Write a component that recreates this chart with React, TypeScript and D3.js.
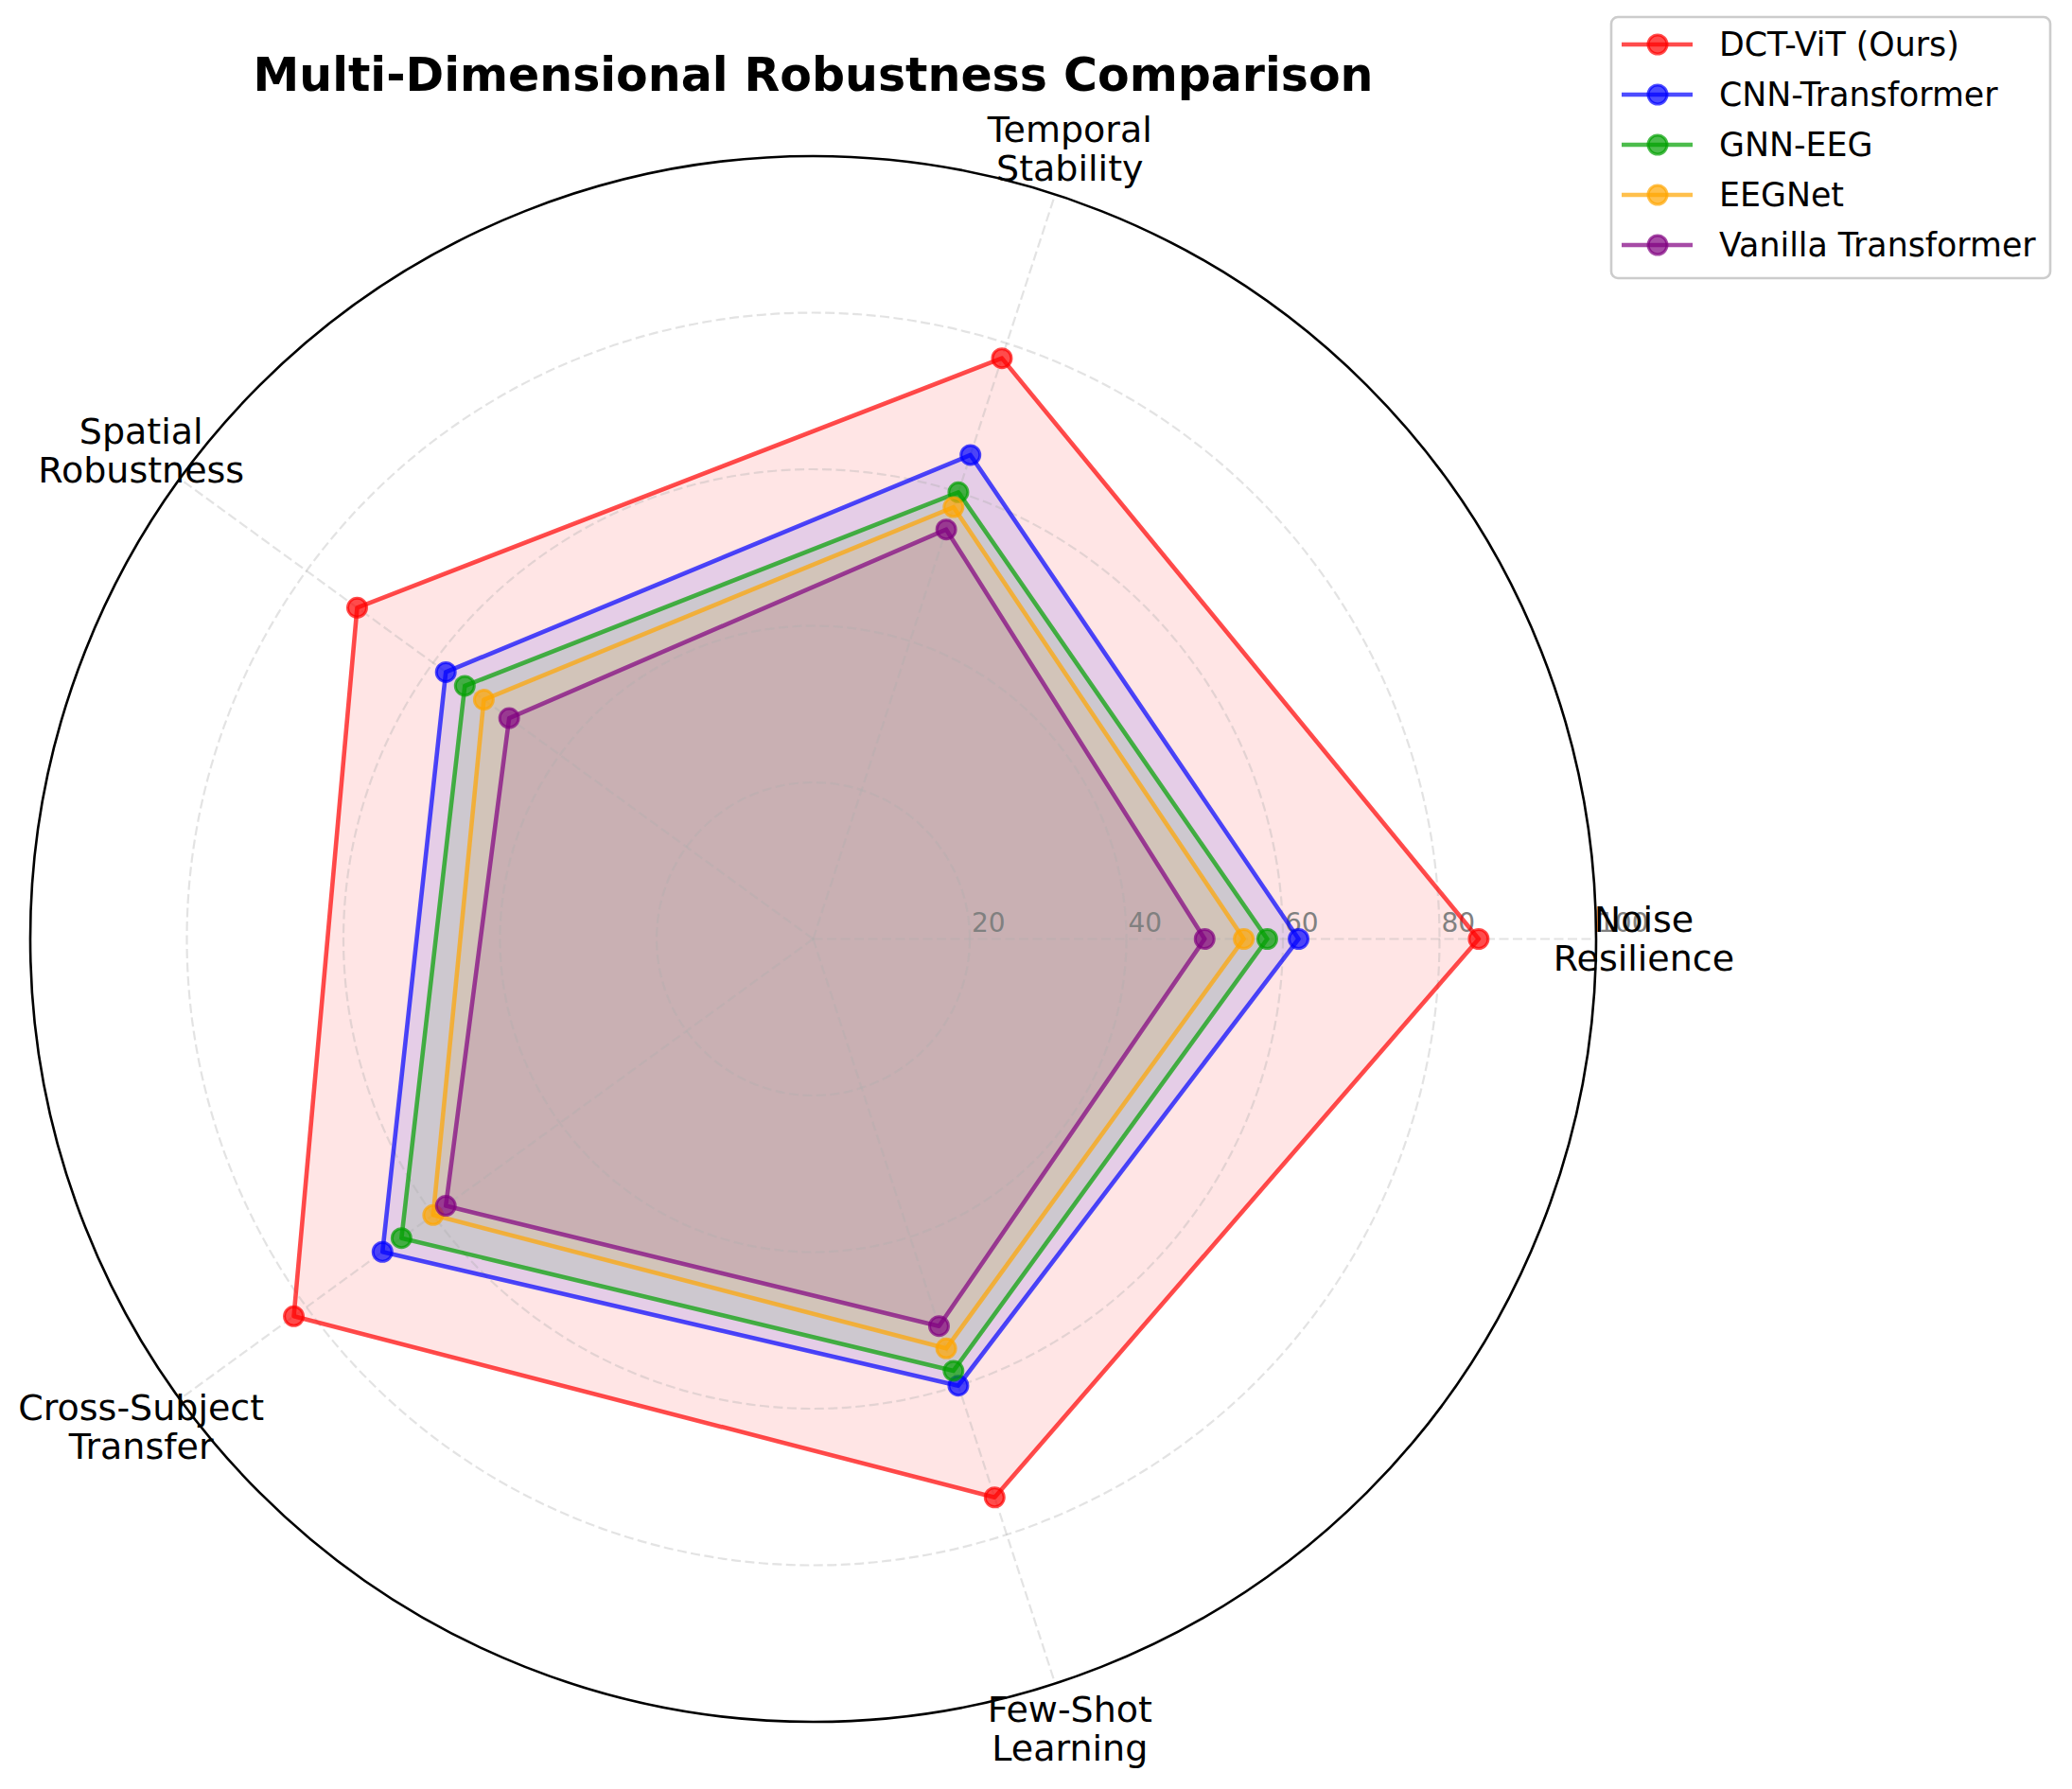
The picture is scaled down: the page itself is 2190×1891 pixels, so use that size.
import React from 'react';
import * as d3 from 'd3';

const categories = ['Noise\nResilience', 'Temporal\nStability', 'Spatial\nRobustness', 'Cross-Subject\nTransfer', 'Few-Shot\nLearning'];
const seriesNames = ['DCT-ViT (Ours)', 'CNN-Transformer', 'GNN-EEG', 'EEGNet', 'Vanilla Transformer'];
const seriesColors = ['#ff0000', '#0000ff', '#00a000', '#ffa500', '#800080'];
const dctVit = [85, 78, 72, 82, 75];
const cnnTransformer = [62, 65, 58, 68, 60];
const gnnEeg = [58, 60, 55, 65, 58];
const eegNet = [55, 58, 52, 60, 55];
const vanillaTransformer = [50, 55, 48, 58, 52];
const radialTicks = [20, 40, 60, 80, 100];
const title = 'Multi-Dimensional Robustness Comparison';

const W = 2190, H = 1891;
const cx = 859.5, cy = 992.5, R = 827.5;
const FONT = 'DejaVu Sans, sans-serif';

export default function App() {
  const seriesValues = [dctVit, cnnTransformer, gnnEeg, eegNet, vanillaTransformer];
  const r = d3.scaleLinear().domain([0, 100]).range([0, R]);
  const theta = d3.scaleLinear().domain([0, categories.length]).range([0, 2 * Math.PI]);
  const px = (i: number, v: number) => cx + r(v) * Math.cos(theta(i));
  const py = (i: number, v: number) => cy - r(v) * Math.sin(theta(i));
  const radial = d3.lineRadial<number>()
    .angle((_d, i) => Math.PI / 2 - theta(i))
    .radius((d) => r(d))
    .curve(d3.curveLinearClosed);

  const labelR = R * 1.061;
  const lineGap = 41;
  const legendX = 1703, legendY = 18, legendW = 464, legendH = 276;
  const rowY = (i: number) => 47 + i * 53;

  return (
    <div style={{ position: 'absolute', left: 0, top: 0 }}>
      <svg width={W} height={H} viewBox={`0 0 ${W} ${H}`} style={{ display: 'block', background: '#fff' }} fontFamily={FONT}>
        <rect x={0} y={0} width={W} height={H} fill="#fff" />
        {/* fills */}
        <g transform={`translate(${cx},${cy})`}>
          {seriesValues.map((vals, s) => (
            <path key={'f' + s} d={radial(vals) || ''} fill={seriesColors[s]} fillOpacity={0.1} stroke="none" />
          ))}
        </g>
        {/* grid */}
        <g>
          {radialTicks.filter((t) => t < 100).map((t) => (
            <circle key={'g' + t} cx={cx} cy={cy} r={r(t)} fill="none" stroke="#b0b0b0" strokeOpacity={0.35} strokeWidth={2.2} strokeDasharray="10,4.5" />
          ))}
          {categories.map((_c, i) => (
            <line key={'s' + i} x1={cx} y1={cy} x2={px(i, 100)} y2={py(i, 100)} stroke="#b0b0b0" strokeOpacity={0.35} strokeWidth={2.2} strokeDasharray="10,4.5" />
          ))}
        </g>
        {/* radial tick labels */}
        {radialTicks.map((t) => (
          <text key={'rt' + t} x={cx + r(t) + 2} y={975} fontSize={28} fill="#808080" dominantBaseline="central" textAnchor="start">{t}</text>
        ))}
        {/* category labels */}
        {categories.map((c, i) => {
          const lines = c.split('\n');
          const x = cx + labelR * Math.cos(theta(i));
          const y = cy - labelR * Math.sin(theta(i));
          return (
            <text key={'c' + i} x={x} y={y} fontSize={38} fill="#000" textAnchor="middle" dominantBaseline="central">
              {lines.map((ln, k) => (
                <tspan key={k} x={x} y={y + (k - (lines.length - 1) / 2) * lineGap}>{ln}</tspan>
              ))}
            </text>
          );
        })}
        {/* lines and markers */}
        {seriesValues.map((vals, s) => (
          <g key={'l' + s}>
            <path transform={`translate(${cx},${cy})`} d={radial(vals) || ''} fill="none" stroke={seriesColors[s]} strokeOpacity={0.7} strokeWidth={4.6} strokeLinejoin="round" />
            {vals.map((v, i) => (
              <circle key={i} cx={px(i, v)} cy={py(i, v)} r={10} fill={seriesColors[s]} fillOpacity={0.7} stroke={seriesColors[s]} strokeOpacity={0.7} strokeWidth={3} />
            ))}
          </g>
        ))}
        {/* outer spine */}
        <circle cx={cx} cy={cy} r={R} fill="none" stroke="#000" strokeWidth={2.6} />
        {/* title */}
        <text x={cx} y={96} fontSize={49} fontWeight="bold" textAnchor="middle" fill="#000">{title}</text>
        {/* legend */}
        <g>
          <rect x={legendX} y={legendY} width={legendW} height={legendH} rx={7} ry={7} fill="#fff" fillOpacity={0.8} stroke="#cccccc" strokeWidth={2.6} />
          {seriesNames.map((n, s) => (
            <g key={'lg' + s}>
              <line x1={1714} x2={1789} y1={rowY(s)} y2={rowY(s)} stroke={seriesColors[s]} strokeOpacity={0.7} strokeWidth={4.6} />
              <circle cx={1752} cy={rowY(s)} r={10} fill={seriesColors[s]} fillOpacity={0.7} stroke={seriesColors[s]} strokeOpacity={0.7} strokeWidth={3} />
              <text x={1817} y={rowY(s)} fontSize={34.8} dominantBaseline="central" fill="#000">{n}</text>
            </g>
          ))}
        </g>
      </svg>
    </div>
  );
}
